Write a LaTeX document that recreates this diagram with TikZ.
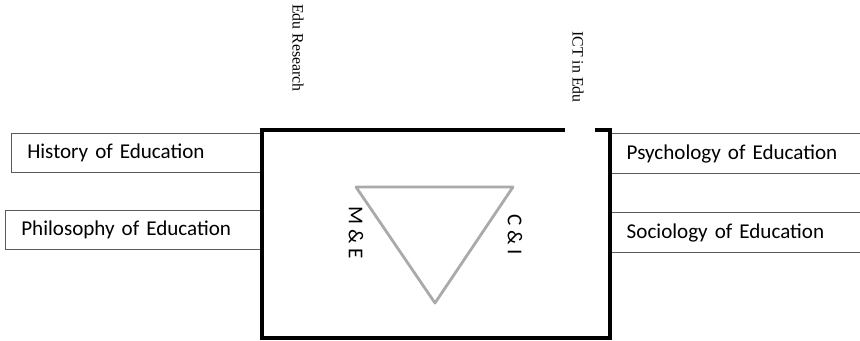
\documentclass[tikz,border=0pt]{standalone}
\usepackage{fontspec}
\setmainfont{Carlito}
\newfontfamily\timesface{Liberation Serif}
\usetikzlibrary{positioning,calc}
\definecolor{EdgeGray}{RGB}{90,90,90}
\definecolor{TriGray}{RGB}{170,170,170}
\tikzset{
  % subject boxes on both sides
  subj/.style={
    rectangle, draw=EdgeGray, line width=0.8pt,
    minimum height=1.17cm, inner xsep=0.48cm,
    align=left, font=\fontsize{18}{20}\selectfont
  },
  subj open/.style={subj, draw=none, inner xsep=0.42cm},
  % the central frame
  core/.style={rectangle, minimum width=10.44cm, minimum height=6.24cm, inner sep=0pt},
  wall/.style={line width=3.2pt, black, line cap=rect},
  tri/.style={line width=2.4pt, TriGray, line join=round},
  % rotated labels
  vlabel/.style={rotate=-90, font=\fontsize{18}{20}\selectfont, inner sep=0pt},
  vtag/.style={rotate=-90, font=\timesface\fontsize{13.5}{15}\selectfont, inner sep=0pt},
}
\begin{document}
\begin{tikzpicture}[x=0.03cm, y=-0.03cm]

  \useasboundingbox (0,0) rectangle (860,341);

  %% Central frame
  \node[core] (core) at (436,234) {};

  %% Left subjects
  \node[subj, text width=6.54cm, anchor=north east]
    (hist) at ($(core.north west)+(0,3)$) {History of Education};
  \node[subj, text width=6.72cm, anchor=north east]
    (phil) at ($(core.north west)+(0,80)$) {Philosophy of Education};

  %% Right subjects (open on the right)
  \node[subj open, text width=6.6cm, anchor=north west]
    (psy) at ($(core.north east)+(2,4)$) {Psychology of Education};
  \node[subj open, text width=6.6cm, anchor=north west]
    (soc) at ($(core.north east)+(2,83)$) {Sociology of Education};
  \draw[EdgeGray, line width=0.8pt] (psy.north west) -- (psy.north east)
    (psy.south west) -- (psy.south east);
  \draw[EdgeGray, line width=0.8pt] (soc.north west) -- (soc.north east)
    (soc.south west) -- (soc.south east);

  %% Frame with a gap at the top
  \coordinate (gapL) at ($(core.north east)+(-47,0)$);
  \coordinate (gapR) at ($(core.north east)+(-13,0)$);
  \draw[wall] (gapL) -- (core.north west) -- (core.south west)
    -- (core.south east) -- (core.north east) -- (gapR);

  %% Triangle
  \coordinate (tl) at ($(core.center)+(-80,-47)$);
  \coordinate (tr) at ($(core.center)+(77,-47)$);
  \coordinate (bt) at ($(core.center)+(-1,69)$);
  \draw[tri] (tl) -- (tr) -- (bt) -- cycle;

  \node[vlabel] (me) at ($(core.center)+(-80,-1)$) {M \& E};
  \node[vlabel] (ci) at ($(core.center)+(79,1)$) {C \& I};

  %% Labels above the frame
  \node[vtag] (research) at (298,48) {Edu Research};
  \node[vtag] (ict) at (578,67) {ICT in Edu};

\end{tikzpicture}
\end{document}
